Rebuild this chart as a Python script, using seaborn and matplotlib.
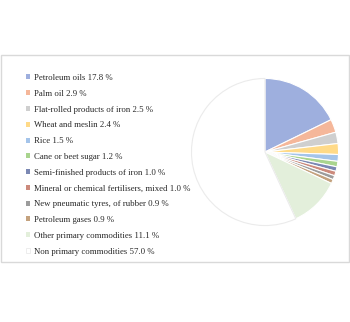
import matplotlib
matplotlib.use("Agg")
import matplotlib.pyplot as plt
from matplotlib.patches import Patch, Rectangle
import seaborn as sns

categories = [
    "Petroleum oils",
    "Palm oil",
    "Flat-rolled products of iron",
    "Wheat and meslin",
    "Rice",
    "Cane or beet sugar",
    "Semi-finished products of iron",
    "Mineral or chemical fertilisers, mixed",
    "New pneumatic tyres, of rubber",
    "Petroleum gases",
    "Other primary commodities",
    "Non primary commodities",
]
shares = [17.8, 2.9, 2.5, 2.4, 1.5, 1.2, 1.0, 1.0, 0.9, 0.9, 11.1, 57.0]
colors = [
    "#9EAFDE", "#F5B79A", "#CFCFCF", "#FFDA88", "#A4C4EA", "#A9D48E",
    "#7B88B3", "#CC8A7C", "#9C9C9C", "#C4A27E", "#E3EFDB", "#FFFFFF",
]

sns.set_theme(style="white")
plt.rcParams["font.family"] = ["Liberation Serif", "DejaVu Serif"]

fig = plt.figure(figsize=(3.5, 3.22), dpi=100)

# light frame around the chart area
fig.patches.append(Rectangle((1 / 350, 60 / 322), 348 / 350, 207 / 322,
                             transform=fig.transFigure, fill=False,
                             edgecolor="#D9D9D9", linewidth=1.0))

ax = fig.add_axes([190 / 350, 95 / 322, 150 / 350, 150 / 322])
wedges, _ = ax.pie(shares, colors=colors, startangle=90, counterclock=False,
                   wedgeprops=dict(edgecolor="white", linewidth=0.8))
wedges[-1].set_edgecolor("#EBEBEB")
ax.set_xlim(-1.02, 1.02)
ax.set_ylim(-1.02, 1.02)
ax.set_aspect("equal")
ax.axis("off")

labels = [f"{c} {v:.1f} %" for c, v in zip(categories, shares)]
handles = [Patch(facecolor=col,
                 edgecolor="#E6E6E6" if col == "#FFFFFF" else "none",
                 linewidth=0.5) for col in colors]
fig.legend(handles, labels, loc="upper left",
           bbox_to_anchor=(26 / 350, 1 - 74 / 322),
           frameon=False, fontsize=6.3, handlelength=0.5, handleheight=0.5,
           handletextpad=0.4, labelspacing=0.89, borderaxespad=0,
           borderpad=0)

fig.savefig("out.png", dpi=100)
